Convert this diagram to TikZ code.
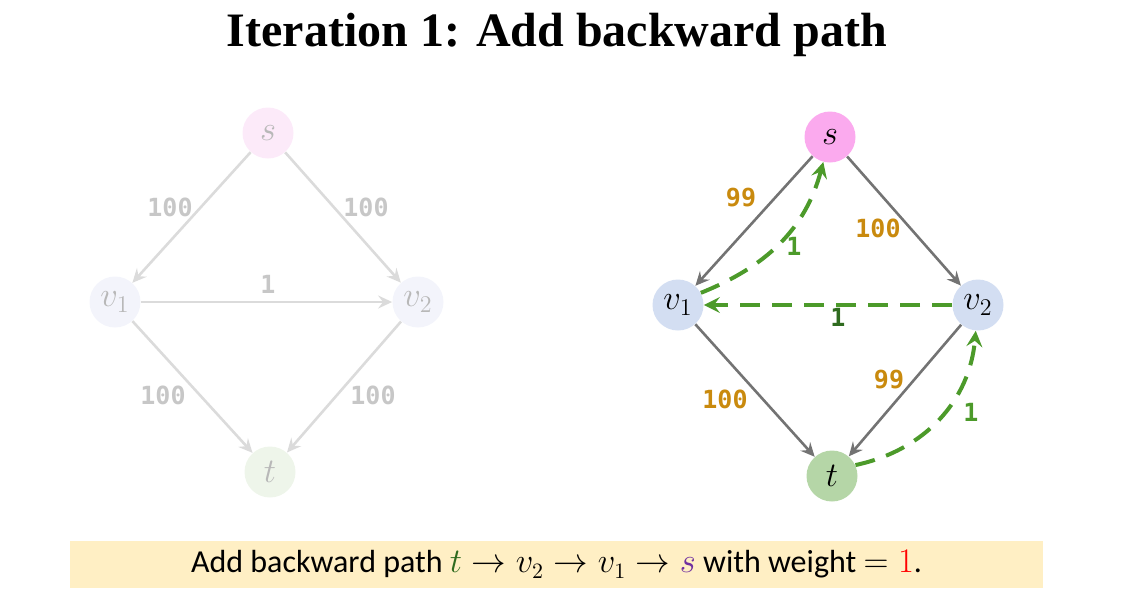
\documentclass[tikz,border=0pt]{standalone}
\usepackage{amsmath}
\usepackage{fontspec}
\newfontfamily\titlefont{Liberation Serif}
\newfontfamily\boxfont{Carlito}
\newfontfamily\labfont{DejaVu Sans Mono}
\usetikzlibrary{arrows.meta,calc,positioning}
\definecolor{spink}{HTML}{FBAAEE}
\definecolor{spale}{HTML}{FCEAF9}
\definecolor{vblue}{HTML}{D3DEF2}
\definecolor{vpale}{HTML}{F3F4FB}
\definecolor{tgreen}{HTML}{B5D6A7}
\definecolor{tpale}{HTML}{EEF5EA}
\definecolor{pathgreen}{HTML}{4C9A2A}
\definecolor{darkgreen}{HTML}{2F6B1F}
\definecolor{wtorange}{HTML}{C98A0E}
\definecolor{boxfill}{HTML}{FFEFC4}
\definecolor{pathpurple}{HTML}{7030A0}

\begin{document}
\begin{tikzpicture}[
  x=0.5pt,y=-0.5pt,
  >={Stealth[length=7pt,width=6.5pt,inset=2.5pt]},
  vnode/.style={circle,minimum size=25.5pt,inner sep=0pt,font=\fontsize{17.28}{20}\selectfont},
  faded/.style={text=black!28},
  edge/.style={->,line width=1.3pt,draw=black!55},
  fadededge/.style={->,line width=1.3pt,draw=black!14},
  back/.style={-{Stealth[length=8pt,width=8pt,inset=3pt]},line width=2pt,draw=pathgreen,
    dash pattern=on 10pt off 6pt},
  wt/.style={font=\labfont\bfseries\fontsize{12.5}{14}\selectfont,text=wtorange},
  fadedwt/.style={font=\labfont\bfseries\fontsize{12.5}{14}\selectfont,text=black!22},
  backwt/.style={font=\labfont\bfseries\fontsize{12.5}{14}\selectfont,text=pathgreen}
]
\useasboundingbox (0,0) rectangle (1124,612);
% Title
\node[font=\titlefont\bfseries\fontsize{24}{28}\selectfont] (title) at (557,35) {Iteration 1: Add backward path};
% Faded graph (before)
\node[vnode,fill=spale,faded] (As) at (268,133) {$s$};
\node[vnode,fill=vpale,faded] (Av1) at (115,302) {$v_1$};
\node[vnode,fill=vpale,faded] (Av2) at (418,302) {$v_2$};
\node[vnode,fill=tpale,faded] (At) at (270,472) {$t$};
\draw[fadededge] (As) -- (Av1);
\draw[fadededge] (As) -- (Av2);
\draw[fadededge] (Av1) -- (Av2);
\draw[fadededge] (Av1) -- (At);
\draw[fadededge] (Av2) -- (At);
\node[fadedwt] (Aw1) at (170,207) {100};
\node[fadedwt] (Aw2) at (366,207) {100};
\node[fadedwt] (Aw3) at (268,284) {1};
\node[fadedwt] (Aw4) at (163,395) {100};
\node[fadedwt] (Aw5) at (373,395) {100};
% Residual graph (after)
\node[vnode,fill=spink] (Bs) at (830,137) {$s$};
\node[vnode,fill=vblue] (Bv1) at (678,305) {$v_1$};
\node[vnode,fill=vblue] (Bv2) at (978,305) {$v_2$};
\node[vnode,fill=tgreen] (Bt) at (832,476) {$t$};
\draw[edge] (Bs) -- (Bv1);
\draw[edge] (Bs) -- (Bv2);
\draw[edge] (Bv1) -- (Bt);
\draw[edge] (Bv2) -- (Bt);
\draw[back] (Bv2) -- (Bv1);
\draw[back] (Bv1.28) to[out=22,in=-105] (Bs.-105);
\draw[back] (Bt.25) to[out=12,in=-95] (Bv2.-95);
\node[wt] (Bw1) at (741,198) {99};
\node[wt] (Bw2) at (878,228) {100};
\node[wt] (Bw3) at (889,380) {99};
\node[wt] (Bw4) at (725,399) {100};
\node[backwt] (Bb1) at (794,246) {1};
\node[backwt,text=darkgreen] (Bb2) at (838,317) {1};
\node[backwt] (Bb3) at (971,412) {1};
% Caption box
\node[fill=boxfill,minimum width=486.5pt,minimum height=23.5pt,inner sep=0pt,
  font=\boxfont\fontsize{16}{18}\selectfont] (caption) at (556.5,564.5)
  {Add backward path ${\color{darkgreen}t} \to v_2 \to v_1 \to {\color{pathpurple}s}$ with weight $= {\color{red}1}$.};
\end{tikzpicture}
\end{document}
